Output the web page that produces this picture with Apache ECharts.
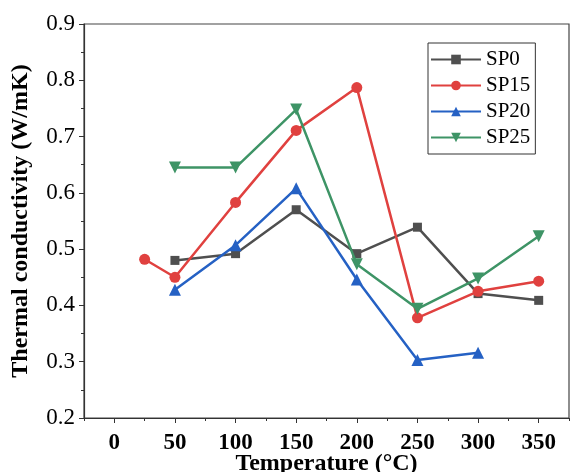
<!DOCTYPE html>
<html>
<head>
<meta charset="utf-8">
<script src="https://cdn.jsdelivr.net/npm/echarts@6/dist/echarts.min.js"></script>
<style>html,body{margin:0;padding:0;background:#fff;}#c{width:571px;height:472px;}</style>
</head>
<body>
<div id="c"></div>
<script>
const xMajor = [0, 50, 100, 150, 200, 250, 300, 350];
const xMinor = [-25, 25, 75, 125, 175, 225, 275, 325, 375];
const sp0 = [[50, 0.480], [100, 0.492], [150, 0.570], [200, 0.492], [250, 0.539], [300, 0.421], [350, 0.409]];
const sp15 = [[25, 0.482], [50, 0.450], [100, 0.583], [150, 0.711], [200, 0.787], [250, 0.378], [300, 0.425], [350, 0.443]];
const sp20 = [[50, 0.428], [100, 0.507], [150, 0.608], [200, 0.446], [250, 0.303], [300, 0.316]];
const sp25 = [[50, 0.645], [100, 0.645], [150, 0.748], [200, 0.473], [250, 0.394], [300, 0.448], [350, 0.523]];
const names = ['SP0', 'SP15', 'SP20', 'SP25'];
const colors = ['#4f4f4f', '#e0413f', '#2561c4', '#3e9466'];
const symbols = ['rect', 'circle', 'triangle', 'path://M0,0 L10,0 L5,9 Z'];
const font = 'Liberation Serif';

const chart = echarts.init(document.getElementById('c'));
const mkSeries = (i, d) => ({
  name: names[i], type: 'line', data: d, xAxisIndex: 0, yAxisIndex: 0,
  symbol: symbols[i], symbolSize: i === 1 ? 11 : (i === 0 ? 9 : 12),
  lineStyle: { color: colors[i], width: 2.5 },
  itemStyle: { color: colors[i] },
  z: 2 + i
});
chart.setOption({
  animation: false,
  grid: { left: 84, right: 2, top: 24, bottom: 54, show: true, borderColor: '#444', borderWidth: 1.2, outerBoundsMode: 'none', containLabel: false },
  legend: {
    data: names, left: 428, top: 43, orient: 'vertical',
    padding: [6, 5, 6, 2], itemGap: 5, itemWidth: 50, itemHeight: 12,
    borderColor: '#333', borderWidth: 1, backgroundColor: '#fff',
    textStyle: { fontFamily: font, fontSize: 21, color: '#000' }
  },
  xAxis: [{
    type: 'value', min: -25, max: 375, interval: 25,
    name: 'Temperature (°C)', nameLocation: 'middle', nameGap: 34, nameMoveOverlap: false,
    nameTextStyle: { fontFamily: font, fontSize: 24, fontWeight: 'bold', color: '#000' },
    axisLine: { show: true, onZero: false, lineStyle: { color: '#333', width: 1.2 } },
    axisTick: { show: true, length: 5, customValues: xMajor, lineStyle: { color: '#333' } },
    axisLabel: { customValues: xMajor, margin: 14, fontFamily: font, fontSize: 23, fontWeight: 'bold', color: '#000' },
    splitLine: { show: false }
  }, {
    type: 'value', min: -25, max: 375, interval: 25, position: 'bottom',
    axisLine: { show: false, onZero: false },
    axisTick: { show: true, length: 3, customValues: xMinor, lineStyle: { color: '#333' } },
    axisLabel: { show: false }, splitLine: { show: false }
  }],
  yAxis: [{
    type: 'value', min: 0.2, max: 0.9, interval: 0.1,
    name: 'Thermal conductivity (W/mK)', nameLocation: 'middle', nameGap: 51, nameMoveOverlap: false,
    nameTextStyle: { fontFamily: font, fontSize: 24, fontWeight: 'bold', color: '#000' },
    axisLine: { show: true, onZero: false, lineStyle: { color: '#333', width: 1.2 } },
    axisTick: { show: true, length: 5, lineStyle: { color: '#333' } },
    minorTick: { show: true, splitNumber: 2, length: 3, lineStyle: { color: '#333' } },
    axisLabel: { margin: 9, fontFamily: font, fontSize: 23, color: '#000', formatter: v => v.toFixed(1) },
    splitLine: { show: false }, minorSplitLine: { show: false }
  }],
  series: [mkSeries(0, sp0), mkSeries(1, sp15), mkSeries(2, sp20), mkSeries(3, sp25)]
});
</script>
</body>
</html>
